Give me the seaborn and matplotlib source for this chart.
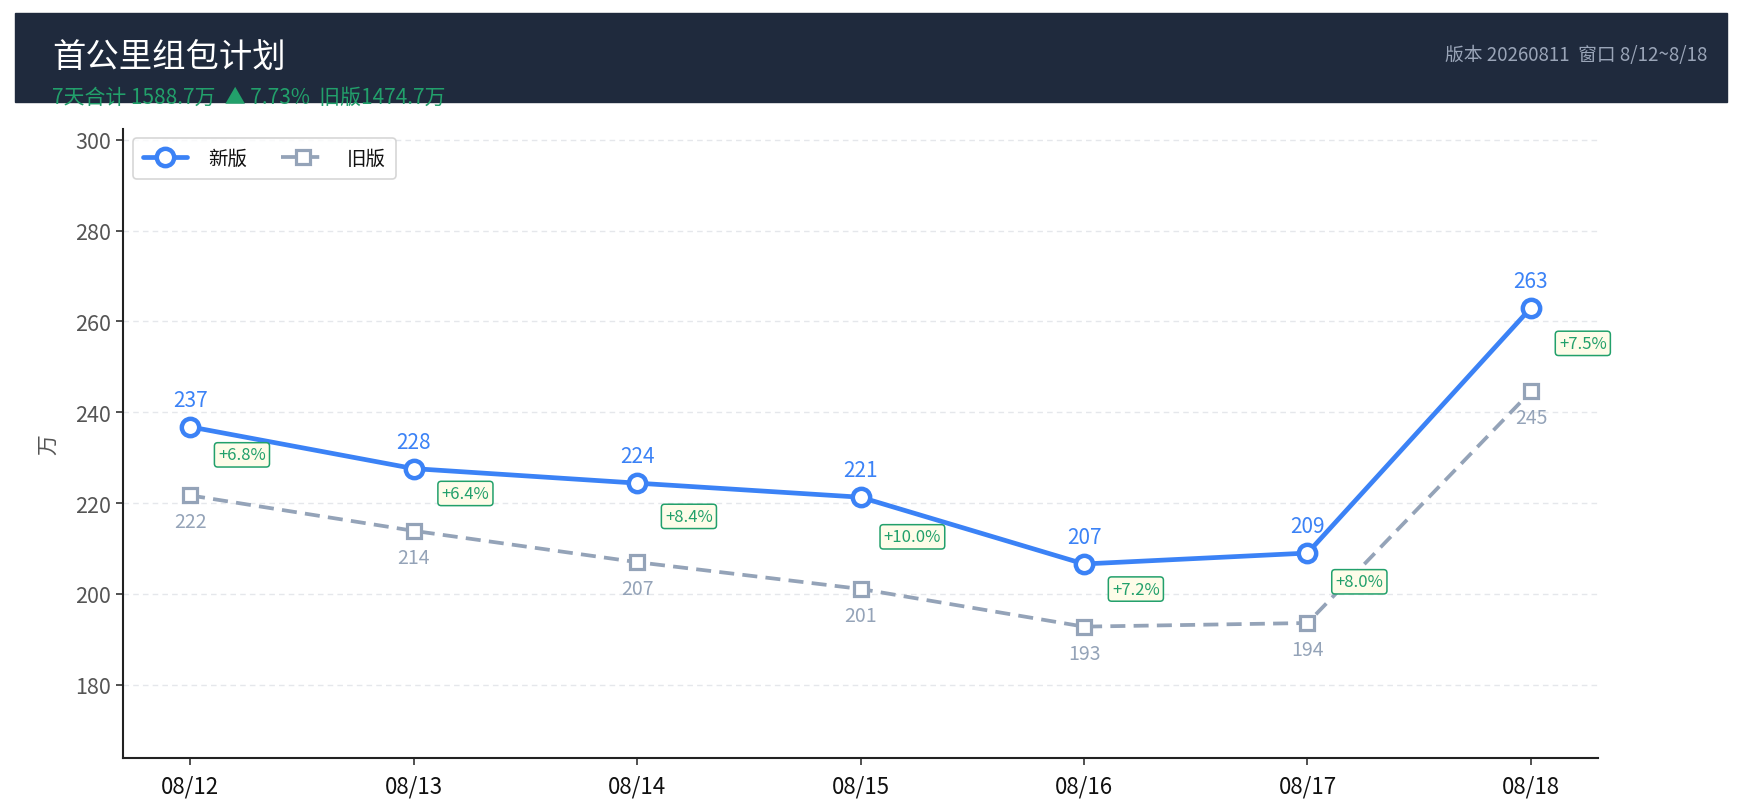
import numpy as np
import pandas as pd
import matplotlib
matplotlib.use("Agg")
import matplotlib.pyplot as plt
from matplotlib.patches import Rectangle
import seaborn as sns

# data
dates = ["08/12", "08/13", "08/14", "08/15", "08/16", "08/17", "08/18"]
new_vals = [236.8, 227.6, 224.4, 221.3, 206.6, 209.0, 263.0]
old_vals = [221.7, 213.9, 207.0, 201.1, 192.8, 193.6, 244.6]
yticks = [180, 200, 220, 240, 260, 280, 300]

title = "首公里组包计划"
meta = "版本 20260811  窗口 8/12~8/18"

BLUE = "#3b82f6"
GRAY = "#94a3b8"
GREEN = "#22a06b"
HEAD = "#1f2a3d"

sns.set_theme(style="white")
plt.rcParams["font.family"] = ["Noto Sans CJK SC", "DejaVu Sans"]
plt.rcParams["axes.unicode_minus"] = False

df = pd.DataFrame({"pos": np.arange(len(dates)), "new": new_vals, "old": old_vals})

fig = plt.figure(figsize=(17.58, 8.12), dpi=100)
ax = fig.add_axes([0.07, 0.0653, 0.839, 0.775])

sns.lineplot(data=df, x="pos", y="new", ax=ax, color=BLUE, lw=3.4,
             marker="o", markersize=12.5, markerfacecolor="white",
             markeredgecolor=BLUE, markeredgewidth=3.2, label="新版", zorder=4)
sns.lineplot(data=df, x="pos", y="old", ax=ax, color=GRAY, lw=2.7,
             linestyle=(0, (4, 2.2)), marker="s", markersize=10,
             markerfacecolor="white", markeredgecolor=GRAY,
             markeredgewidth=2.3, label="旧版", zorder=3)

# labels
for i, (n, o) in enumerate(zip(new_vals, old_vals)):
    ax.annotate(f"{n:.0f}", (i, n), xytext=(0, 19.5), textcoords="offset points",
                ha="center", va="center", color=BLUE, fontsize=15)
    ax.annotate(f"{o:.0f}", (i, o), xytext=(0, -19), textcoords="offset points",
                ha="center", va="center", color=GRAY, fontsize=14)
    pct = (n / o - 1) * 100
    ax.annotate(f"+{pct:.1f}%", (i + 0.232, (n + o) / 2), xytext=(0, 4.5),
                textcoords="offset points", ha="center", va="center",
                color=GREEN, fontsize=12, zorder=6,
                bbox=dict(boxstyle="round,pad=0.22,rounding_size=0.2",
                          fc="#fefce8", ec=GREEN, lw=1.1))

lo, hi = min(old_vals) * 0.85, max(new_vals) * 1.15
ax.set_ylim(lo, hi)
ax.set_xlim(-0.3, len(dates) - 0.7)
ax.set_xticks(df["pos"])
ax.set_xticklabels(dates, fontsize=16, color="#111111")
ax.set_yticks(yticks)
ax.set_yticklabels([str(t) for t in yticks], fontsize=15.5, color="#555555")
ax.set_xlabel("")
ax.set_ylabel("万", fontsize=15, color="#555555", labelpad=12)
ax.yaxis.grid(True, linestyle=(0, (4, 3)), color="#e5e7eb", lw=1)
ax.xaxis.grid(False)
ax.tick_params(axis="both", length=5, width=1.2, color="#333333", bottom=True, left=True)
ax.tick_params(axis="x", pad=7)
sns.despine(ax=ax)
for s in ["left", "bottom"]:
    ax.spines[s].set_color("#222222")
    ax.spines[s].set_linewidth(1.5)

leg = ax.legend(loc="upper left", ncol=2, fontsize=14, frameon=True,
                handlelength=2.3, columnspacing=1.7, handletextpad=1.1,
                borderpad=0.5, fancybox=True)
leg.get_frame().set_edgecolor("#cccccc")
leg.get_frame().set_linewidth(1.2)
for t in leg.get_texts():
    t.set_color("#111111")

# header band
fig.patches.append(Rectangle((0.0085, 0.873), 0.974, 0.1096,
                             transform=fig.transFigure, color=HEAD, zorder=0))
total_new = sum(new_vals)
total_old = sum(old_vals)
growth = (total_new / total_old - 1) * 100
fig.text(0.0296, 0.929, title, color="white", fontsize=24, va="center", ha="left")
fig.text(0.0296, 0.872, f"7天合计 {total_new:.1f}万  ▲ {growth:.2f}%  旧版{total_old:.1f}万",
         color=GREEN, fontsize=15, va="baseline", ha="left")
fig.text(0.971, 0.932, meta, color="#9aa5b8", fontsize=13.5, va="center", ha="right")

fig.savefig("out.png", dpi=100)
